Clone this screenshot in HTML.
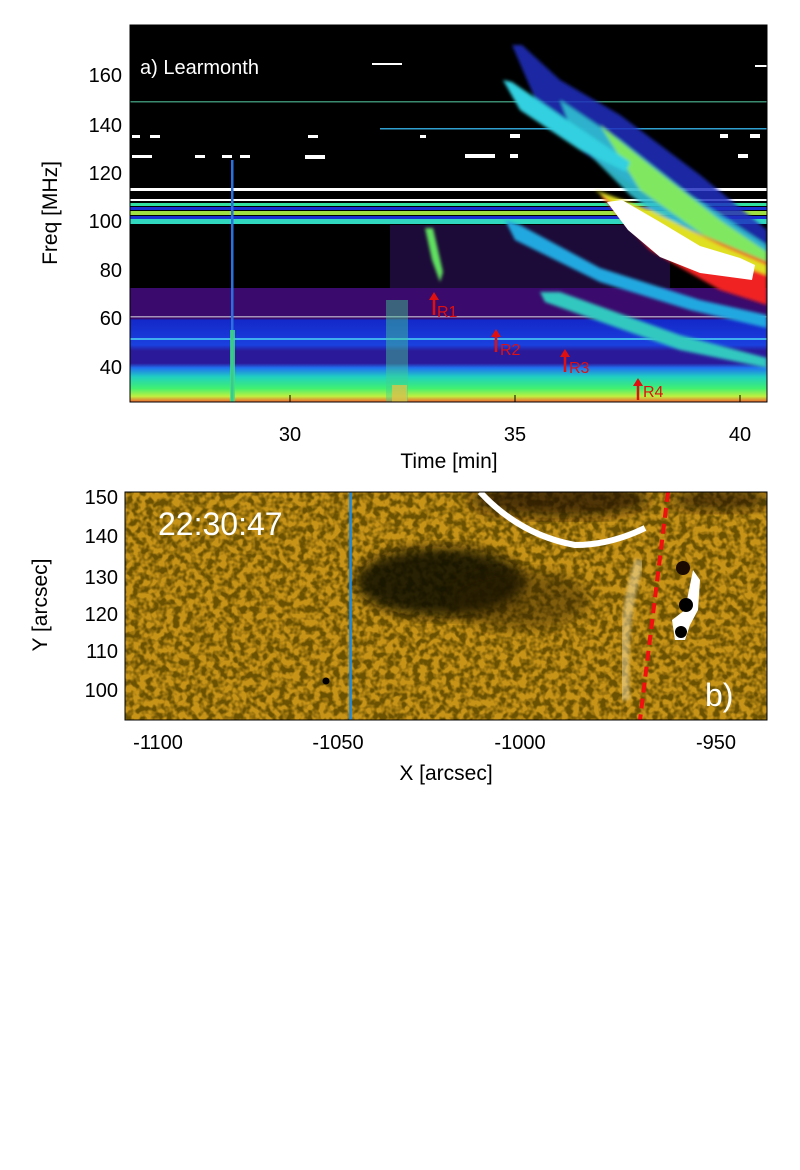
<!DOCTYPE html>
<html><head><style>
body{margin:0;background:#fff;width:800px;height:1170px;overflow:hidden}
svg{display:block}
text{font-family:"Liberation Sans",sans-serif}
</style></head><body>
<svg width="800" height="1170" viewBox="0 0 800 1170">
<defs>
<linearGradient id="bot" x1="0" y1="0" x2="0" y2="1">
<stop offset="0" stop-color="#3a0a6c"/><stop offset="0.27" stop-color="#3a0a6c"/>
<stop offset="0.28" stop-color="#1428c8"/><stop offset="0.5" stop-color="#1a40e0"/>
<stop offset="0.55" stop-color="#2a1a9a"/><stop offset="0.66" stop-color="#2a1a9a"/>
<stop offset="0.7" stop-color="#2070f0"/><stop offset="0.78" stop-color="#20d0c0"/>
<stop offset="0.88" stop-color="#40f070"/><stop offset="0.95" stop-color="#c0f040"/>
<stop offset="1" stop-color="#f06030"/></linearGradient>
<filter id="nz" x="0" y="0" width="1" height="1">
<feTurbulence type="fractalNoise" baseFrequency="0.15" numOctaves="2" seed="3"/>
<feColorMatrix type="matrix" values="0 0 0 0 0.12  0 0 0 0 0.07  0 0 0 0 0  0 0 0 -3.5 2.2"/>
</filter>
<filter id="bl"><feGaussianBlur stdDeviation="6"/></filter>
<filter id="bl2"><feGaussianBlur stdDeviation="1.5"/></filter>
<clipPath id="ca"><rect x="130" y="25" width="637" height="377"/></clipPath>
<clipPath id="cb"><rect x="125" y="492" width="642" height="228"/></clipPath>
</defs>

<!-- Panel a -->
<g clip-path="url(#ca)">
<rect x="130" y="25" width="637" height="377" fill="#000"/>
<rect x="130" y="288" width="637" height="114" fill="url(#bot)"/>
<rect x="390" y="225" width="280" height="63" fill="#1c0a38"/>
<rect x="130" y="188" width="637" height="3" fill="#fff"/>
<rect x="130" y="199" width="637" height="2" fill="#fff"/>
<rect x="130" y="203" width="637" height="3" fill="#30e0a0"/>
<rect x="130" y="207" width="637" height="3" fill="#1830d0"/>
<rect x="130" y="211" width="637" height="4" fill="#a0e040"/>
<rect x="130" y="216" width="637" height="3" fill="#1830d0"/>
<rect x="130" y="219" width="637" height="5" fill="#30d8c0"/>
<rect x="130" y="101" width="637" height="1.5" fill="#3a8a70"/>
<rect x="380" y="128" width="387" height="1.5" fill="#30a0d0"/>
<rect x="130" y="316" width="637" height="1.5" fill="#eee" opacity="0.6"/>
<rect x="130" y="338" width="637" height="2" fill="#40b0f0"/>
<g fill="#fff"><rect x="132" y="135" width="8" height="3"/><rect x="150" y="135" width="10" height="3"/><rect x="308" y="135" width="10" height="3"/><rect x="420" y="135" width="6" height="3"/><rect x="510" y="134" width="10" height="4"/><rect x="720" y="134" width="8" height="4"/><rect x="750" y="134" width="10" height="4"/>
<rect x="132" y="155" width="20" height="3"/><rect x="195" y="155" width="10" height="3"/><rect x="222" y="155" width="10" height="3"/><rect x="240" y="155" width="10" height="3"/><rect x="305" y="155" width="20" height="4"/><rect x="465" y="154" width="30" height="4"/><rect x="510" y="154" width="8" height="4"/><rect x="738" y="154" width="10" height="4"/><rect x="372" y="63" width="30" height="2"/><rect x="755" y="65" width="12" height="2"/></g>
<!-- emission -->
<g filter="url(#bl2)">
<polygon points="512,45 522,45 560,80 620,115 700,175 767,230 767,290 700,240 640,190 580,150 540,110" fill="#2030c0" opacity="0.85"/>
<polygon points="560,100 620,140 690,195 767,245 767,285 700,245 630,195 575,140" fill="#30c0d0" opacity="0.9"/>
<polygon points="600,125 650,165 720,220 767,252 767,278 710,240 640,190" fill="#80e860"/>
<polygon points="503,80 512,82 560,115 630,162 626,172 580,150 520,110" fill="#30d0e0"/>
<polygon points="505,220 520,225 600,268 700,300 767,315 767,328 690,310 600,282 515,240" fill="#20a8e0"/>
<polygon points="540,292 560,292 680,335 767,358 767,368 680,350 545,302" fill="#30c8c0"/>
<polygon points="425,228 433,228 443,272 440,282 432,260" fill="#60e060"/>
<polygon points="600,195 690,230 767,262 767,305 720,290 650,250" fill="#f02020"/>
<polygon points="595,190 650,210 720,245 767,265 767,275 700,250 640,225" fill="#e0e020"/>
</g>
<polygon points="607,202 622,200 660,222 700,246 740,258 755,265 752,280 700,273 660,257 628,230" fill="#fff"/>
<rect x="231" y="160" width="2.5" height="242" fill="#2a70e0"/>
<rect x="230" y="330" width="5" height="72" fill="#40e080" opacity="0.8"/>
<rect x="386" y="300" width="22" height="102" fill="#40d090" opacity="0.45"/>
<rect x="392" y="385" width="15" height="17" fill="#f0c040" opacity="0.7"/>
</g>
<rect x="130" y="25" width="637" height="377" fill="none" stroke="#000" stroke-width="1"/>
<g stroke="#000" stroke-width="1">
<line x1="290" y1="402" x2="290" y2="395"/><line x1="515" y1="402" x2="515" y2="395"/><line x1="740" y1="402" x2="740" y2="395"/>
</g>
<text x="140" y="74" fill="#fff" font-size="20">a) Learmonth</text>
<g fill="#000" font-size="20" text-anchor="end">
<text x="122" y="82">160</text><text x="122" y="132">140</text><text x="122" y="180">120</text><text x="122" y="228">100</text><text x="122" y="277">80</text><text x="122" y="325">60</text><text x="122" y="374">40</text>
</g>
<text transform="translate(57,213) rotate(-90)" font-size="21" text-anchor="middle">Freq [MHz]</text>
<g font-size="20" text-anchor="middle"><text x="290" y="441">30</text><text x="515" y="441">35</text><text x="740" y="441">40</text></g>
<text x="449" y="468" font-size="21" text-anchor="middle">Time [min]</text>
<g fill="#e01010" font-size="16"><text x="437" y="317">R1</text><text x="500" y="355">R2</text><text x="569" y="373">R3</text><text x="643" y="397">R4</text></g>
<g stroke="#e01010" stroke-width="2.5" fill="#e01010">
<line x1="434" y1="315" x2="434" y2="297"/><polygon points="429,300 434,292 439,300" stroke="none"/>
<line x1="496" y1="352" x2="496" y2="334"/><polygon points="491,337 496,329 501,337" stroke="none"/>
<line x1="565" y1="372" x2="565" y2="354"/><polygon points="560,357 565,349 570,357" stroke="none"/>
<line x1="638" y1="400" x2="638" y2="383"/><polygon points="633,386 638,378 643,386" stroke="none"/>
</g>

<!-- Panel b -->
<g clip-path="url(#cb)">
<rect x="125" y="492" width="642" height="228" fill="#c89418"/>
<rect x="125" y="492" width="642" height="228" filter="url(#nz)" opacity="0.9"/>
<ellipse cx="440" cy="582" rx="85" ry="35" fill="#100800" filter="url(#bl)" opacity="0.85"/>
<ellipse cx="520" cy="600" rx="70" ry="30" fill="#2a1a00" filter="url(#bl)" opacity="0.45"/>
<ellipse cx="560" cy="500" rx="90" ry="18" fill="#1a1000" filter="url(#bl)" opacity="0.7"/>
<ellipse cx="720" cy="500" rx="50" ry="12" fill="#1a1000" filter="url(#bl)" opacity="0.6"/>
<path d="M480,492 Q520,535 575,545 Q610,545 645,528" stroke="#fff" stroke-width="6" fill="none"/>
<path d="M640,560 Q620,620 625,700" stroke="#f0e0b0" stroke-width="10" fill="none" opacity="0.5" filter="url(#bl2)"/>
<path d="M693,570 L700,580 L698,610 L690,625 L685,640 L675,640 L672,620 L685,610 Z" fill="#fff"/>
<circle cx="686" cy="605" r="7" fill="#000"/><circle cx="681" cy="632" r="6" fill="#000"/>
<circle cx="683" cy="568" r="7" fill="#1a0a00"/>
<circle cx="326" cy="681" r="3.5" fill="#000"/>
<line x1="350.5" y1="492" x2="350.5" y2="720" stroke="#1a8ae8" stroke-width="2.5"/>
<line x1="668" y1="492" x2="640" y2="720" stroke="#f01010" stroke-width="4" stroke-dasharray="10,6"/>
</g>
<rect x="125" y="492" width="642" height="228" fill="none" stroke="#000" stroke-width="1"/>
<text x="158" y="535" fill="#fff" font-size="32">22:30:47</text>
<text x="705" y="706" fill="#fff" font-size="32">b)</text>
<g font-size="20" text-anchor="end">
<text x="118" y="504">150</text><text x="118" y="543">140</text><text x="118" y="584">130</text><text x="118" y="621">120</text><text x="118" y="658">110</text><text x="118" y="697">100</text>
</g>
<text transform="translate(47,605) rotate(-90)" font-size="21" text-anchor="middle">Y [arcsec]</text>
<g font-size="20" text-anchor="middle"><text x="158" y="749">-1100</text><text x="338" y="749">-1050</text><text x="520" y="749">-1000</text><text x="716" y="749">-950</text></g>
<text x="446" y="780" font-size="21" text-anchor="middle">X [arcsec]</text>
</svg>
</body></html>
